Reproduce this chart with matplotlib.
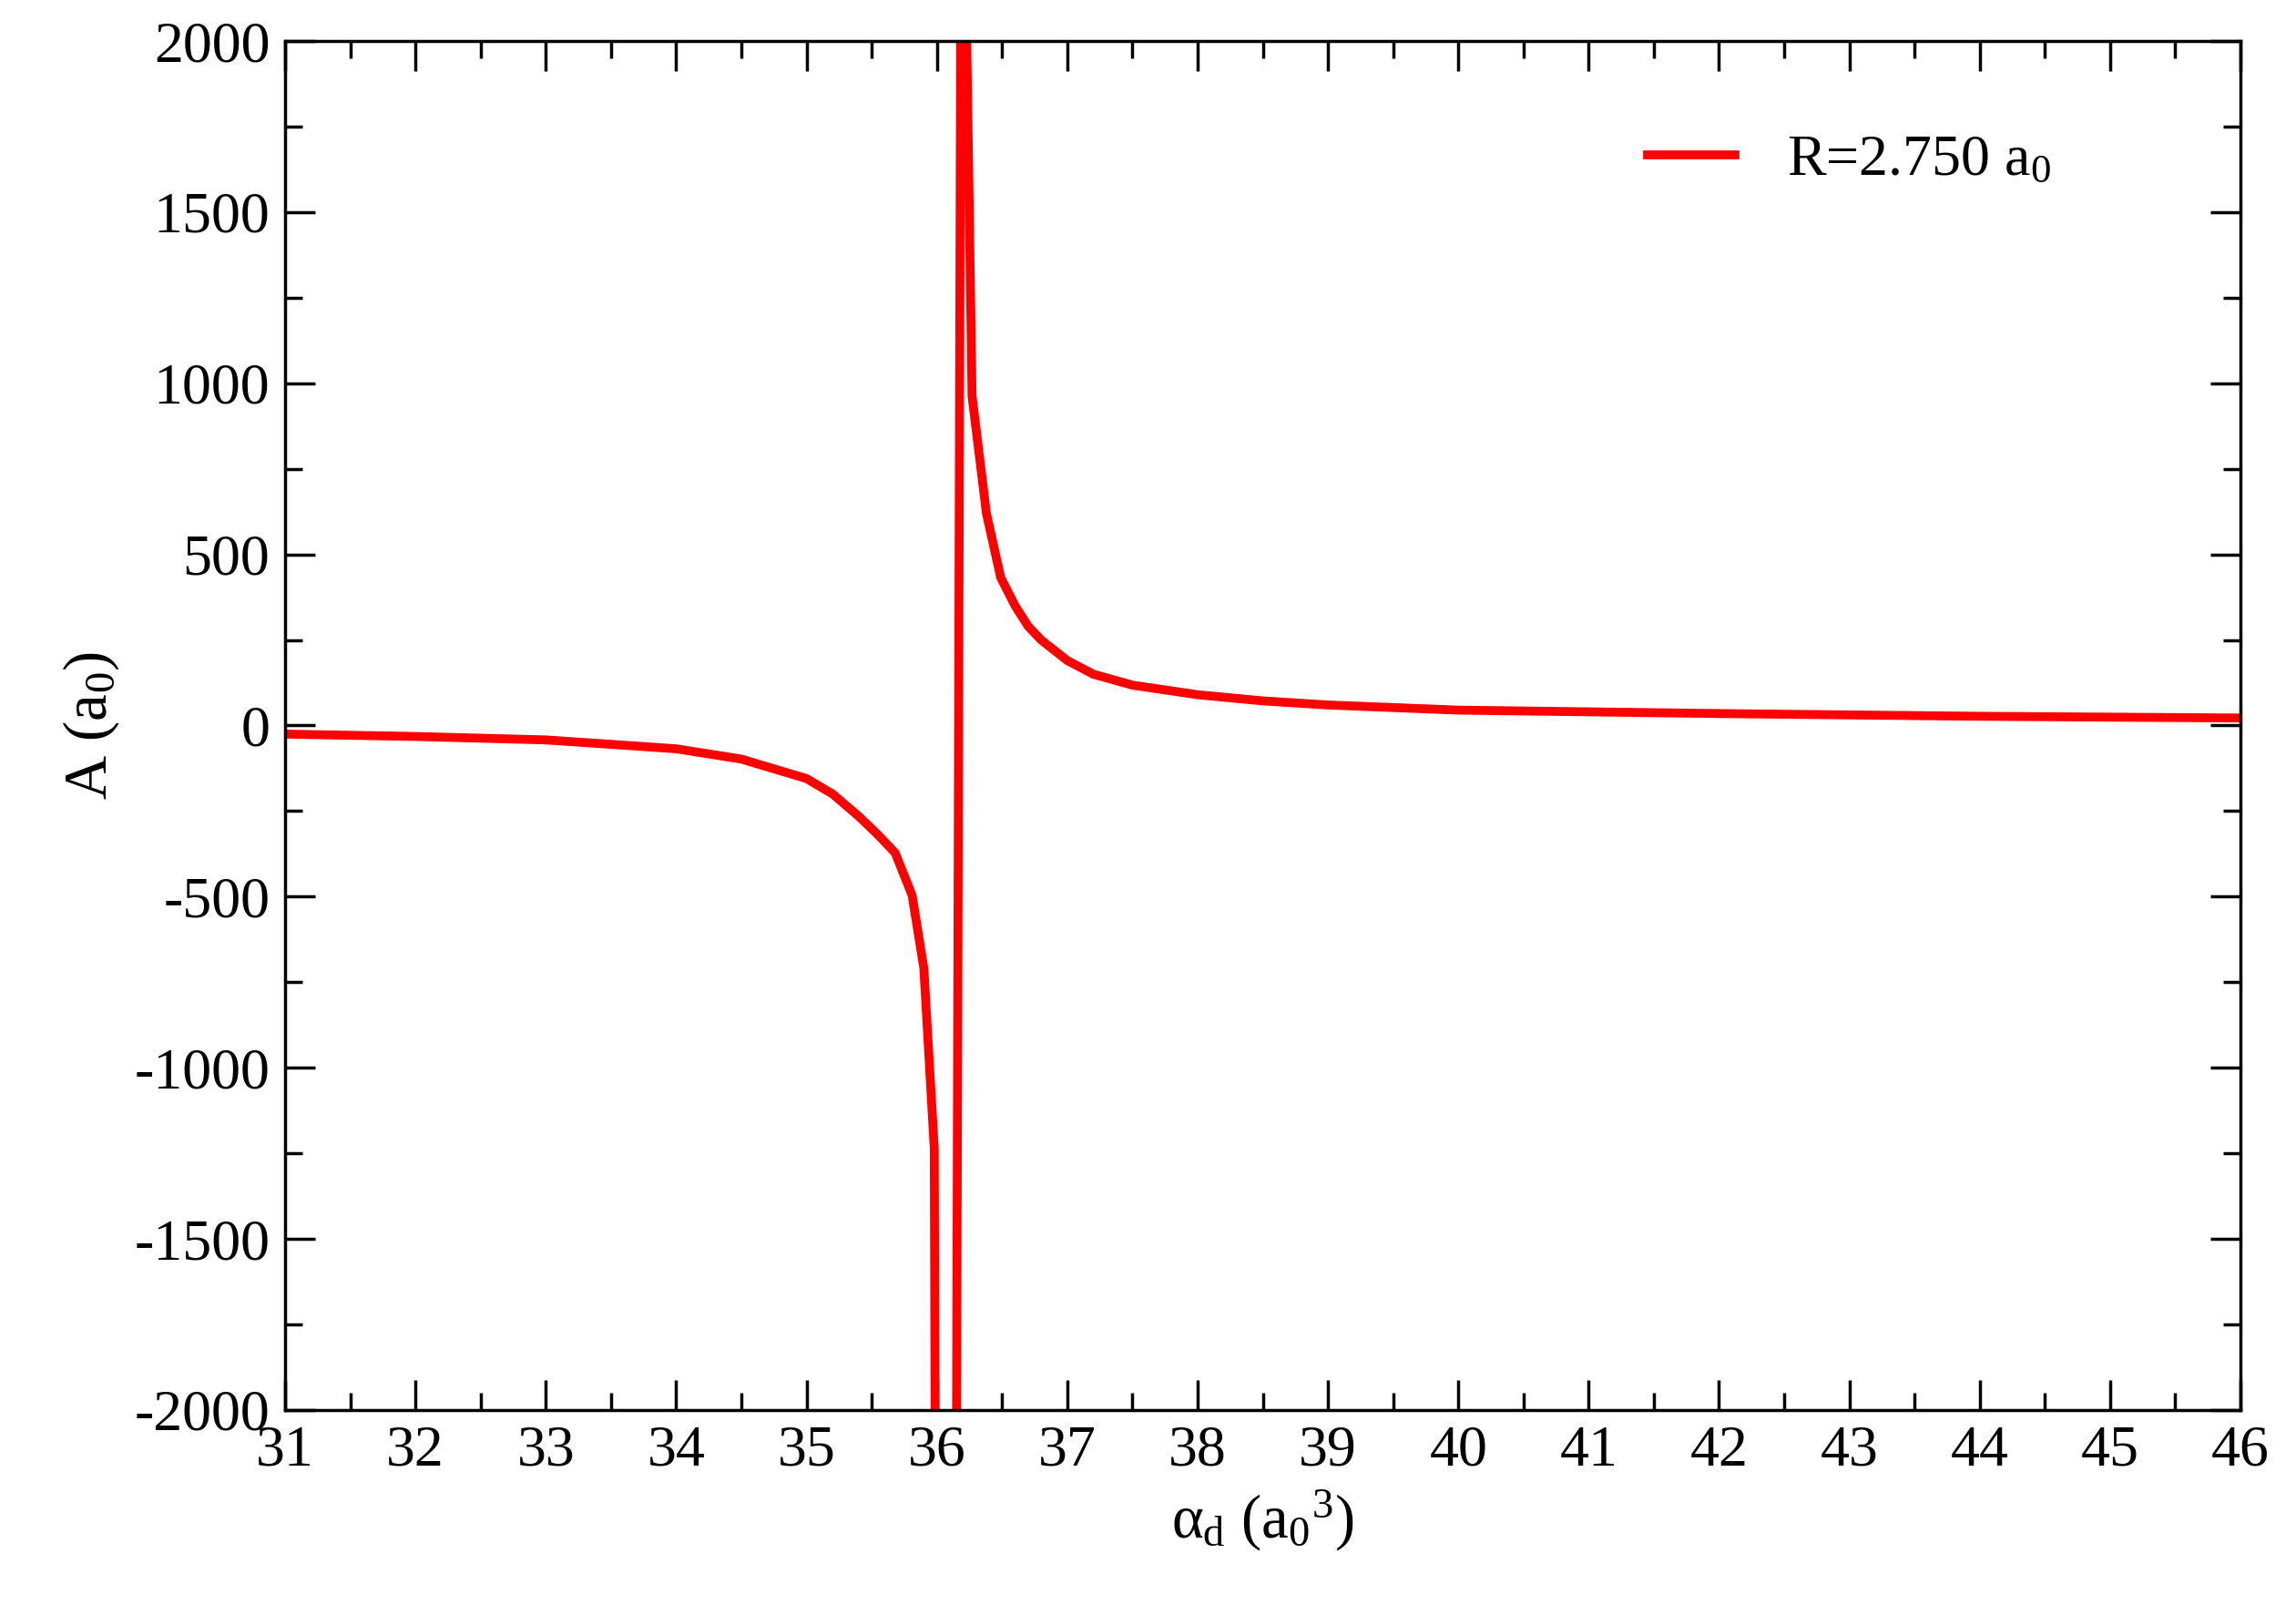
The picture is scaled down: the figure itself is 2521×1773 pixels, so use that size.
import numpy as np
import matplotlib.pyplot as plt
from matplotlib.ticker import MultipleLocator

plt.rcParams['font.family'] = ['Liberation Serif', 'DejaVu Serif']
plt.rcParams['mathtext.fontset'] = 'custom'
plt.rcParams['mathtext.rm'] = 'Liberation Serif'
plt.rcParams['mathtext.it'] = 'Liberation Serif'
plt.rcParams['axes.unicode_minus'] = False

# polarizability (a0^3) vs scattering length (a0), R = 2.750 a0
alpha = [31, 32, 33, 34, 34.5, 35, 35.2, 35.4, 35.55, 35.68, 35.81, 35.9, 35.98,
         36.02, 36.12, 36.19, 36.27, 36.38, 36.49, 36.6, 36.7, 36.8, 37.0, 37.2,
         37.5, 38, 38.5, 39, 40, 42, 44, 46]
A = [-25, -32, -42, -68, -98, -155, -200, -265, -320, -372, -496, -709, -1235,
     -6000, -6000, 3000, 962, 620, 432, 350, 290, 250, 190, 150,
     118, 90, 72, 60, 45, 35, 27, 22]

fig = plt.figure(figsize=(25.21, 17.73), dpi=100)
ax = fig.add_axes([313/2521, 1-1548/1773, (2460-313)/2521, (1548-45)/1773])
ax.plot(alpha, A, color='#ff0000', lw=7, label='R=2.750 a$_0$')
ax.set_xlim(31, 46)
ax.set_ylim(-2000, 2000)
ax.xaxis.set_major_locator(MultipleLocator(1))
ax.xaxis.set_minor_locator(MultipleLocator(0.5))
ax.yaxis.set_major_locator(MultipleLocator(500))
ax.yaxis.set_minor_locator(MultipleLocator(250))
ax.tick_params(which='both', direction='in', top=True, right=True, width=2.5, labelsize=46, pad=12)
ax.tick_params(which='major', length=24)
ax.tick_params(which='minor', length=14)
for s in ax.spines.values():
    s.set_linewidth(2.5)
ax.set_xlabel(r'$\alpha_{\rm d}$ (a$_0$$^3$)', fontsize=48, labelpad=8)
ax.set_ylabel('A (a$_0$)', fontsize=48, labelpad=10)
ax.legend(loc='upper right', bbox_to_anchor=(0.93, 0.97), frameon=False, fontsize=46,
          handlelength=1.5, handletextpad=0.9)
fig.savefig('out.png', dpi=100)
